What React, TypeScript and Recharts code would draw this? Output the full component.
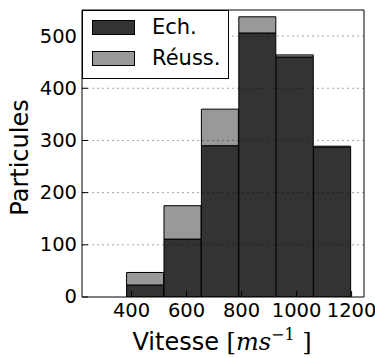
import React from 'react';
import { BarChart, Bar, XAxis, YAxis, CartesianGrid, Legend, Label } from 'recharts';

// histogram bins (centres, width ~136 m/s)
const binCenters = [450, 586, 722, 858, 994, 1130];
const echValues = [23, 111, 290, 506, 460, 287];
const reussValues = [24, 64, 70, 31, 4, 2];

const xTicks = [400, 600, 800, 1000, 1200];
const yTicks = [0, 100, 200, 300, 400, 500];

const seriesNames = ['Ech.', 'Réuss.'];
const seriesColors = ['#333333', '#999999'];

const data = binCenters.map((c, i) => ({
  v: c,
  ech: echValues[i],
  reuss: reussValues[i],
}));

const FONT = '"DejaVu Sans", sans-serif';
const TICK_SIZE = 19.5;

const renderLegend = () => (
  <div
    style={{
      position: 'relative',
      width: 147,
      height: 69,
      boxSizing: 'border-box',
      border: '1px solid #000',
      background: '#fff',
      fontFamily: FONT,
    }}
  >
    {seriesNames.map((name, i) => (
      <div key={name}>
        <div
          style={{
            position: 'absolute',
            left: 9,
            top: 9 + i * 31,
            width: 43,
            height: 15,
            boxSizing: 'border-box',
            border: '1px solid #000',
            background: seriesColors[i],
          }}
        />
        <div
          style={{
            position: 'absolute',
            left: 69,
            top: 3 + i * 31,
            fontSize: 21,
            lineHeight: '26px',
            color: '#000',
            whiteSpace: 'nowrap',
          }}
        >
          {name}
        </div>
      </div>
    ))}
  </div>
);

const XTick = (props: any) => {
  const { x, y, payload } = props;
  return (
    <text x={x} y={y} dy="0.73em" textAnchor="middle" fontFamily={FONT} fontSize={TICK_SIZE} fill="#000">
      {payload.value}
    </text>
  );
};

const YTick = (props: any) => {
  const { x, y, payload } = props;
  return (
    <text x={x} y={y} dy="0.33em" textAnchor="end" fontFamily={FONT} fontSize={TICK_SIZE} fill="#000">
      {payload.value}
    </text>
  );
};

const YLabel = (props: any) => {
  const { x, y, height } = props.viewBox;
  const cx = x + 20;
  const cy = y + height / 2 + 4;
  return (
    <text
      x={cx}
      y={cy}
      transform={`rotate(-90 ${cx} ${cy})`}
      textAnchor="middle"
      dominantBaseline="central"
      fontFamily={FONT}
      fontSize={24}
      fill="#000"
    >
      Particules
    </text>
  );
};

const XLabel = (props: any) => {
  const { x, width } = props.viewBox;
  const cx = x + width / 2 - 1;
  return (
    <text x={cx} y={350} textAnchor="middle" fontSize={24} fill="#000" fontFamily={FONT}>
      <tspan>Vitesse </tspan>
      <tspan fontFamily='"DejaVu Serif", serif'>[</tspan>
      <tspan fontFamily='"DejaVu Serif", serif' fontStyle="italic">ms</tspan>
      <tspan fontFamily='"DejaVu Serif", serif' fontSize={16} dy={-10}>−1</tspan>
      <tspan fontFamily='"DejaVu Serif", serif' dy={10}> ]</tspan>
    </text>
  );
};

export default function App() {
  return (
    <div style={{ position: 'absolute', left: 0, top: 0, width: 375, height: 358, background: '#fff' }}>
      <BarChart
        width={375}
        height={358}
        data={data}
        margin={{ top: 9, right: 10, bottom: 0, left: 0 }}
        barCategoryGap={0}
        barGap={0}
      >
        <XAxis
          dataKey="v"
          type="number"
          domain={[220, 1245]}
          ticks={xTicks}
          allowDataOverflow
          height={61}
          tickSize={-6}
          tickMargin={12}
          stroke="#000"
          tick={<XTick />}
          interval={0}
        >
          <Label content={XLabel} />
        </XAxis>
        <XAxis
          xAxisId="top"
          orientation="top"
          dataKey="v"
          type="number"
          domain={[220, 1245]}
          ticks={xTicks}
          allowDataOverflow
          height={1}
          tickSize={-6}
          stroke="#000"
          tick={false}
        />
        <YAxis
          domain={[0, 550]}
          ticks={yTicks}
          allowDataOverflow
          width={82}
          tickSize={-6}
          tickMargin={11}
          stroke="#000"
          tick={<YTick />}
          interval={0}
        >
          <Label content={YLabel} />
        </YAxis>
        <YAxis
          yAxisId="right"
          orientation="right"
          domain={[0, 550]}
          ticks={yTicks}
          allowDataOverflow
          width={1}
          tickSize={-6}
          stroke="#000"
          tick={false}
        />
        <Bar dataKey="ech" name={seriesNames[0]} stackId="a" fill={seriesColors[0]} stroke="#000" strokeWidth={1} isAnimationActive={false} />
        <Bar dataKey="reuss" name={seriesNames[1]} stackId="a" fill={seriesColors[1]} stroke="#000" strokeWidth={1} isAnimationActive={false} />
        <CartesianGrid
          vertical={false}
          stroke="#000"
          strokeOpacity={0.35}
          strokeDasharray="2 3"
          horizontalValues={[100, 200, 300, 400, 500]}
          zIndex={600}
        />
        <Legend
          layout="horizontal"
          verticalAlign="middle"
          align="center"
          wrapperStyle={{ position: 'absolute', left: 82, top: 10, width: 147, height: 69 }}
          content={renderLegend}
        />
      </BarChart>
    </div>
  );
}
